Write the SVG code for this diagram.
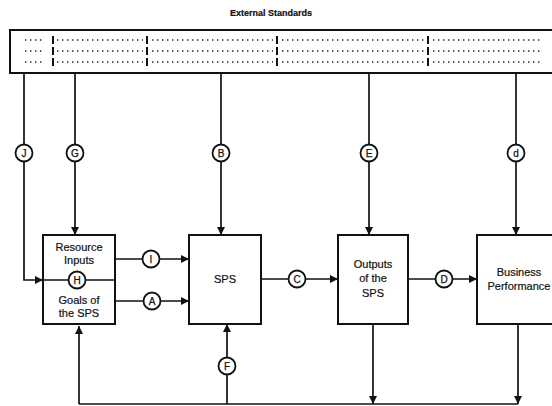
<svg xmlns="http://www.w3.org/2000/svg" width="552" height="406" viewBox="0 0 552 406">
<style>
.box{fill:#fff;stroke:#111;stroke-width:2}
.ln{fill:none;stroke:#111;stroke-width:1.7}
.arr{fill:none;stroke:#111;stroke-width:1.7;marker-end:url(#ah)}
.cir{fill:#fff;stroke:#111;stroke-width:1.8}
.cl{font-family:"Liberation Sans",Arial,sans-serif;font-size:10px;text-anchor:middle;fill:#111;stroke:#111;stroke-width:0.25}
.t{font-family:"Liberation Sans",Arial,sans-serif;font-size:11px;text-anchor:middle;fill:#111;stroke:#111;stroke-width:0.2}
.dots{stroke:#222;stroke-width:1.7;stroke-dasharray:1.4 3.6}
.sep{stroke:#111;stroke-width:2}
</style>
<defs>
<marker id="ah" markerUnits="userSpaceOnUse" markerWidth="9" markerHeight="8" refX="8" refY="4" orient="auto">
<path d="M0,0 L8,4 L0,8 z" fill="#111"/>
</marker>
</defs>
<rect width="552" height="406" fill="#fff"/>
<text x="271" y="16" class="t" style="font-size:9px;font-weight:bold">External Standards</text>
<g id="standards">
<path d="M556,30 H10 V73 H556" class="box"/>
<g class="dots">
<path d="M25,40 H42 M57,40 H143 M152,40 H273 M282,40 H424 M433,40 H540"/>
<path d="M25,51 H42 M57,51 H143 M152,51 H273 M282,51 H424 M433,51 H540"/>
<path d="M25,62 H42 M57,62 H143 M152,62 H273 M282,62 H424 M433,62 H540"/>
</g>
<g class="sep">
<path d="M53,36 V44 M53,47 V55 M53,58 V66"/>
<path d="M147,36 V44 M147,47 V55 M147,58 V66"/>
<path d="M277,36 V44 M277,47 V55 M277,58 V66"/>
<path d="M428,36 V44 M428,47 V55 M428,58 V66"/>
</g>
</g>
<g id="resource-goals">
<rect x="43" y="235" width="72" height="89" class="box"/>
<text x="79" y="251" class="t">Resource</text>
<text x="79" y="264" class="t">Inputs</text>
<text x="79" y="304" class="t">Goals of</text>
<text x="79" y="317" class="t">the SPS</text>
</g>
<g id="sps">
<rect x="189" y="235" width="72" height="89" class="box"/>
<text x="225" y="283" class="t">SPS</text>
</g>
<g id="outputs">
<rect x="338" y="235" width="70" height="89" class="box"/>
<text x="373" y="268" class="t">Outputs</text>
<text x="373" y="282" class="t">of the</text>
<text x="373" y="297" class="t">SPS</text>
</g>
<g id="business">
<rect x="477" y="235" width="90" height="89" class="box"/>
<text x="519" y="276" class="t">Business</text>
<text x="519" y="290" class="t">Performance</text>
</g>
<g id="connectors">
<path d="M24,73 V280 H43" class="arr"/>
<path d="M43,280 H115" class="ln"/>
<path d="M75,73 V235" class="arr"/>
<path d="M221,73 V235" class="arr"/>
<path d="M369,73 V235" class="arr"/>
<path d="M516,73 V235" class="arr"/>
<path d="M115,259 H189" class="arr"/>
<path d="M115,301 H189" class="arr"/>
<path d="M261,279 H338" class="arr"/>
<path d="M408,279 H477" class="arr"/>
<path d="M373,324 V404" class="arr"/>
<path d="M518,324 V404" class="arr"/>
<path d="M79,404 H518" class="ln"/>
<path d="M79,404 V326" class="arr"/>
<path d="M227,404 V324" class="arr"/>
<g>
<circle cx="24" cy="153" r="8.5" class="cir"/><text x="24" y="156.6" class="cl">J</text>
<circle cx="75" cy="153" r="8.5" class="cir"/><text x="75" y="156.6" class="cl">G</text>
<circle cx="221" cy="153" r="8.5" class="cir"/><text x="221" y="156.6" class="cl">B</text>
<circle cx="369" cy="153" r="8.5" class="cir"/><text x="369" y="156.6" class="cl">E</text>
<circle cx="516" cy="153" r="8.5" class="cir"/><text x="516" y="156.6" class="cl">d</text>
<circle cx="77" cy="280" r="8.5" class="cir"/><text x="77" y="283.6" class="cl">H</text>
<circle cx="151" cy="259" r="8.5" class="cir"/><text x="151" y="262.6" class="cl">I</text>
<circle cx="152" cy="301" r="8.5" class="cir"/><text x="152" y="304.6" class="cl">A</text>
<circle cx="297" cy="279" r="8.5" class="cir"/><text x="297" y="282.6" class="cl">C</text>
<circle cx="444" cy="279" r="8.5" class="cir"/><text x="444" y="282.6" class="cl">D</text>
<circle cx="227" cy="366" r="8.5" class="cir"/><text x="227" y="369.6" class="cl">F</text>
</g>
</g>
</svg>
